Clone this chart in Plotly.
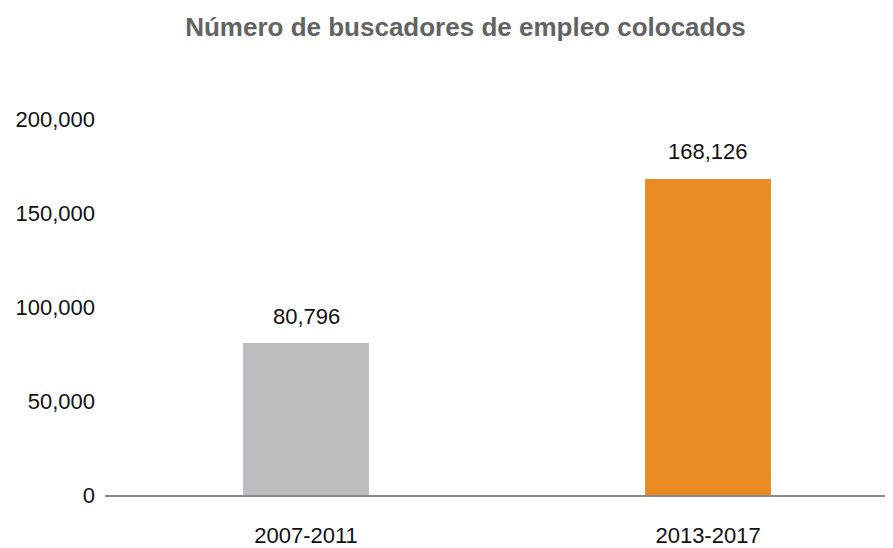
import plotly.graph_objects as go

categories = ["2007-2011", "2013-2017"]
values = [80796, 168126]
bar_colors = ["#BCBDC0", "#EB8A23"]
tick_vals = [0, 50000, 100000, 150000, 200000]
tick_text = ["0", "50,000", "100,000", "150,000", "200,000"]
title_text = "Número de buscadores de empleo colocados"

FONT = "Liberation Sans, Arial, Helvetica, sans-serif"

fig = go.Figure()
fig.add_trace(go.Bar(
    x=categories, y=values,
    marker=dict(color=bar_colors, line=dict(width=0)),
    width=0.313,
    hoverinfo="skip",
))

for c, v in zip(categories, values):
    fig.add_annotation(x=c, y=v, text=f"{v:,}", showarrow=False,
                       yshift=27, font=dict(family=FONT, size=22, color="#111111"))

fig.update_layout(
    width=893, height=548,
    margin=dict(l=97, r=0, t=111, b=61),
    paper_bgcolor="white", plot_bgcolor="white",
    showlegend=False,
    title=dict(text=f"<b>{title_text}</b>", x=457.5 / 893, xanchor="center",
               y=1 - 19 / 548, yref="container", yanchor="middle",
               font=dict(family=FONT, size=26, color="#636363")),
    font=dict(family=FONT, size=22, color="#111111"),
    xaxis=dict(range=[-0.5, 1.48], showline=True, linecolor="#8a8a8a", linewidth=1.5,
               showgrid=False, ticks="", ticklabelstandoff=20, fixedrange=True,
               tickfont=dict(family=FONT, size=22, color="#111111")),
    yaxis=dict(range=[0, 200000], showline=False, showgrid=False, zeroline=False,
               tickvals=tick_vals, ticktext=tick_text, ticks="",
               ticklabelstandoff=9, fixedrange=True,
               tickfont=dict(family=FONT, size=22, color="#111111")),
)

fig.write_html("out.html")
